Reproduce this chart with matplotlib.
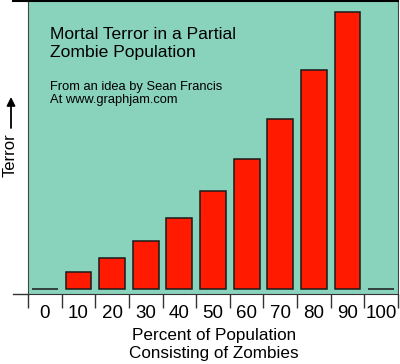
# Mortal Terror in a Partial Zombie Population
import matplotlib.pyplot as plt
from matplotlib.patches import FancyArrowPatch

# data
percent = [0, 10, 20, 30, 40, 50, 60, 70, 80, 90, 100]
terror = [0, 17, 31, 48, 71, 98, 130, 170, 219, 277, 0]

plt.rcParams["font.family"] = ["Liberation Sans", "DejaVu Sans"]

fig = plt.figure(figsize=(4, 3.64), dpi=100)
ax = fig.add_axes([28 / 400, 70 / 364, 370 / 400, 293 / 364])
ax.set_facecolor("#89D2BB")

x = list(range(len(percent)))
ax.bar(x, terror, width=0.77, color="#FF1A00", edgecolor="#1a1a1a", linewidth=1.1)

ax.set_xlim(-0.5, len(percent) - 0.5)
ax.set_ylim(-5, 288)

# tick marks between categories, labels at centres
ax.set_xticks([i - 0.5 for i in range(len(percent) + 1)])
ax.set_xticklabels([])
ax.set_xticks(x, minor=True)
ax.set_xticklabels([str(p) for p in percent], minor=True, fontsize=13.5)
ax.tick_params(axis="x", which="major", direction="out", length=10, width=1, color="#333333")
ax.tick_params(axis="x", which="minor", length=0, pad=8)
ax.set_yticks([])

for s in ["left", "right"]:
    ax.spines[s].set_color("#444444")
ax.spines["top"].set_color("black")
ax.spines["top"].set_linewidth(1.5)
ax.spines["bottom"].set_color("#333333")
# axis lines stick out on the left
ax.plot([-0.04, 0], [0, 0], transform=ax.transAxes, color="#333333", lw=1, clip_on=False)
ax.plot([-0.04, 0], [1, 1], transform=ax.transAxes, color="black", lw=1.5, clip_on=False)

ax.text(0.06, 0.91, "Mortal Terror in a Partial\nZombie Population", transform=ax.transAxes,
        fontsize=12.6, va="top", linespacing=1.2)
ax.text(0.06, 0.728, "From an idea by Sean Francis\nAt www.graphjam.com", transform=ax.transAxes,
        fontsize=9.3, va="top", linespacing=1.2)

# y label with a long arrow
fig.text(0.026, (364 - 155) / 364, "Terror", rotation=90, ha="center", va="center", fontsize=12)
fig.patches.append(FancyArrowPatch(
    (11 / 400, (364 - 128) / 364), (11 / 400, (364 - 97) / 364), transform=fig.transFigure,
    arrowstyle="-|>,head_length=5,head_width=2.5", color="black", lw=1.3,
    shrinkA=0, shrinkB=0))

fig.text(0.535, (364 - 344.5) / 364, "Percent of Population\nConsisting of Zombies", ha="center",
         va="center", fontsize=12.3, linespacing=1.2)

plt.savefig("out.png", dpi=100)
plt.close()
